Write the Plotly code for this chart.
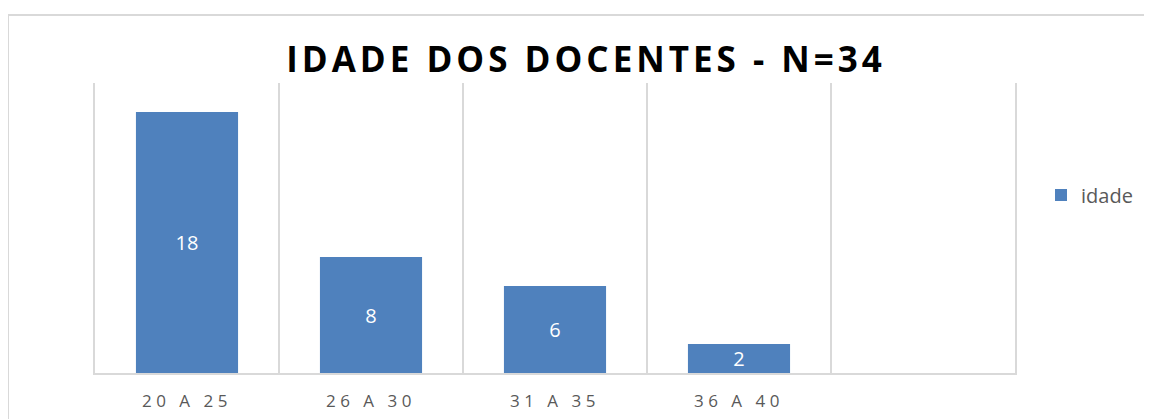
import plotly.graph_objects as go

categories = ["20 A 25", "26 A 30", "31 A 35", "36 A 40", " "]
values = [18, 8, 6, 2, None]
labels = ["18", "8", "6", "2", ""]
series_name = "idade"
title_text = "IDADE DOS DOCENTES - N=34"

OFF = 8  # page body margin offset
W, H = 1152 - OFF, 419 - OFF
L, R, T, B = 95 - OFF, 1015 - OFF, 83 - OFF, 373 - OFF
pw, ph = R - L, B - T


def spaced(s, px):
    return '<span style="letter-spacing:%spx">%s</span>' % (px, s)


fig = go.Figure()
fig.add_trace(go.Bar(
    x=categories, y=values, name=series_name,
    marker=dict(color="#4F81BD", line=dict(width=0)),
    width=0.555,
    text=labels, textposition="inside", insidetextanchor="middle",
    textangle=0, constraintext="none",
    textfont=dict(color="white", size=20, family="Open Sans"),
    showlegend=True,
))

fig.update_layout(
    width=W, height=H,
    margin=dict(l=L, r=W - R, t=T, b=H - B, autoexpand=False),
    plot_bgcolor="white", paper_bgcolor="white",
    title=dict(text="<b>" + spaced(title_text, 4) + "</b>", x=(586 - OFF) / W, xanchor="center",
               y=1 - (60 - OFF) / H, yanchor="middle",
               font=dict(family="Open Sans", size=35, color="#000000")),
    legend=dict(x=(1041 - OFF - L) / pw, y=1 - (195 - OFF - T) / ph, xanchor="left", yanchor="middle",
                font=dict(family="Open Sans", size=20, color="#595959"),
                itemwidth=30, bgcolor="rgba(0,0,0,0)"),
    xaxis=dict(type="category", tickson="boundaries", showgrid=True, gridcolor="#d9d9d9",
               gridwidth=1.5, showline=True, linecolor="#d9d9d9", linewidth=2,
               ticks="", ticklabelstandoff=12, automargin=False,
               tickvals=categories, ticktext=[spaced(c, 4.5) for c in categories],
               tickfont=dict(family="Open Sans", size=17, color="#595959"),
               range=[-0.5, 4.5]),
    yaxis=dict(range=[0, 20], showgrid=False, showticklabels=False, zeroline=False,
               automargin=False,
               showline=True, linecolor="#d9d9d9", linewidth=1.5, mirror=True, ticks=""),
    shapes=[
        dict(type="line", xref="paper", yref="paper",
             x0=(8 - OFF - L) / pw, x1=(8 - OFF - L) / pw, y0=(B - 430) / ph, y1=(B - (15 - OFF)) / ph,
             line=dict(color="#d9d9d9", width=2)),
        dict(type="line", xref="paper", yref="paper",
             x0=(8 - OFF - L) / pw, x1=(1160 - L) / pw, y0=(B - (15 - OFF)) / ph, y1=(B - (15 - OFF)) / ph,
             line=dict(color="#d9d9d9", width=2)),
    ],
)

fig.write_html("out.html")
